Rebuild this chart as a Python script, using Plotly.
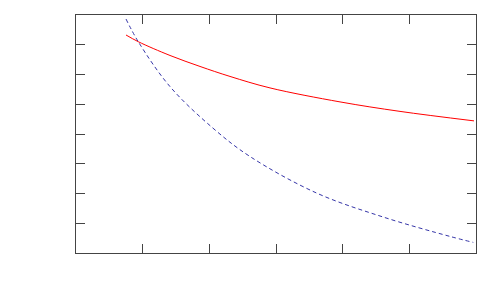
import plotly.graph_objects as go

red_x = [0.750, 0.934, 1.410, 1.860, 2.310, 2.910, 3.960, 4.860, 5.970]
red_y = [7.328, 7.103, 6.640, 6.271, 5.935, 5.549, 5.079, 4.760, 4.441]

blue_x = [0.750, 0.934, 1.410, 2.055, 2.610, 3.610, 4.609, 5.610, 5.959]
blue_y = [7.865, 7.103, 5.593, 4.196, 3.243, 2.014, 1.208, 0.557, 0.356]

fig = go.Figure()
fig.add_trace(go.Scatter(x=red_x, y=red_y, mode="lines",
                         line=dict(color="#ff0000", width=1, shape="spline"),
                         showlegend=False))
fig.add_trace(go.Scatter(x=blue_x, y=blue_y, mode="lines",
                         line=dict(color="#3535a8", width=1, shape="spline", dash="4px,3px"),
                         showlegend=False))

axis_common = dict(showgrid=False, zeroline=False, showticklabels=False,
                   ticks="inside", ticklen=9, tickcolor="#444", tickwidth=1,
                   showline=True, linecolor="#444", linewidth=1, mirror="ticks")
fig.update_layout(
    width=492, height=292,
    margin=dict(l=68, r=24, t=7, b=47),
    paper_bgcolor="white", plot_bgcolor="white",
    xaxis=dict(range=[0, 6], dtick=1, tick0=0, **axis_common),
    yaxis=dict(range=[0, 8], dtick=1, tick0=0, **axis_common),
)
fig.write_html("out.html")
